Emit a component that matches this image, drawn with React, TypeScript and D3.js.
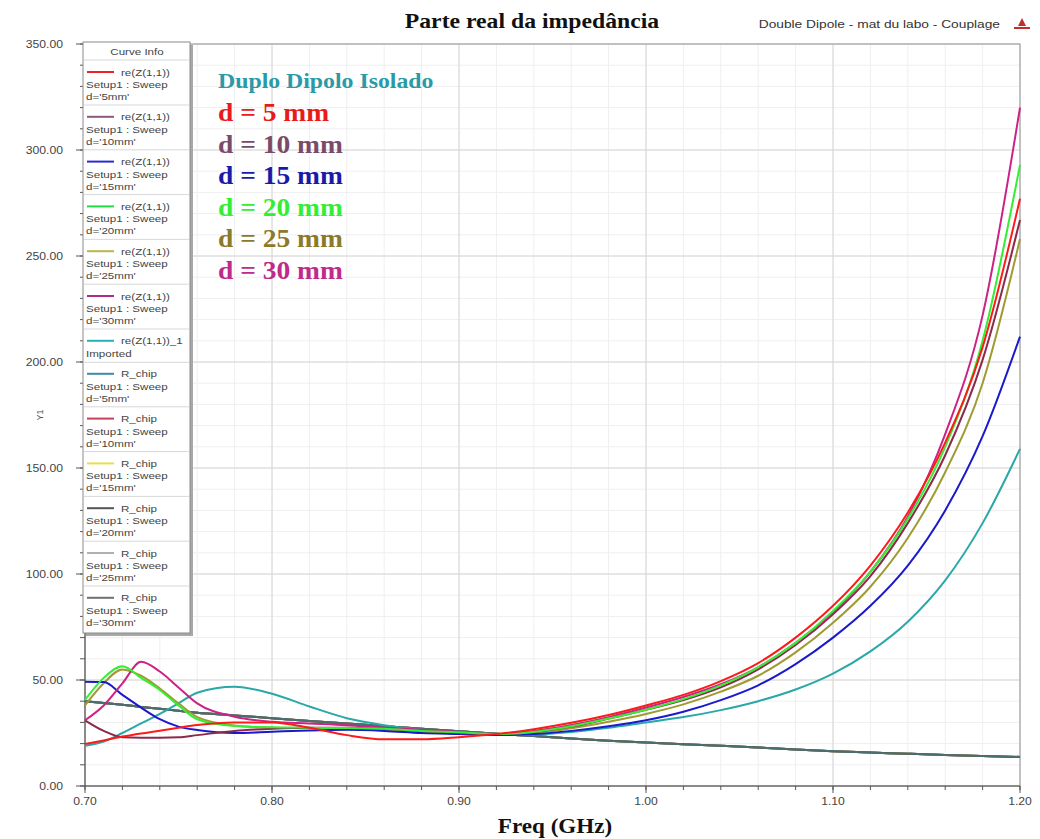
import * as d3 from "d3";

// frequency samples (GHz)
const freqs = [0.7, 0.71, 0.72, 0.73, 0.74, 0.75, 0.76, 0.78, 0.8, 0.82, 0.84, 0.86, 0.88, 0.9, 0.92, 0.94, 0.96, 0.98, 1.0, 1.02, 1.04, 1.06, 1.08, 1.1, 1.12, 1.14, 1.16, 1.18, 1.2];

// re(Z(1,1)) for each spacing d
const reZ_d5 = [19.8, 21.5, 23.3, 24.8, 26.1, 27.5, 28.8, 30, 30, 27.5, 24, 22, 22, 23, 24.5, 26.8, 29.8, 33.5, 38, 43, 49.5, 58, 70, 85, 104, 129, 162, 207, 277];
const reZ_d10 = [31, 26, 23, 22.8, 22.8, 23, 24, 26, 27, 27.5, 27.5, 27, 26, 25, 24.5, 25.5, 28, 31.8, 36, 40.5, 46.5, 55, 66.5, 81, 99, 124, 156, 201, 267];
const reZ_d15 = [49.2, 49, 43, 37, 31.5, 28, 26.4, 25, 25.6, 26.2, 26.5, 26, 25, 24.5, 24, 24.5, 26, 28.2, 31, 35, 40.5, 47.5, 57.5, 70, 85, 104, 130, 165, 212];
const reZ_d20 = [40.6, 51, 56.5, 51, 45.3, 38, 31.5, 28.3, 27.7, 27.5, 27.3, 27, 26, 25.3, 24.5, 25.5, 28.2, 31.8, 36, 41, 47.5, 56, 67.5, 82.5, 101, 126, 160, 210, 293];
const reZ_d25 = [38, 48.5, 55, 52, 46, 39, 32.5, 28.5, 27.5, 27.3, 27, 26.5, 25.5, 25, 24.3, 25, 27.2, 30.3, 34, 38.5, 44.5, 52, 63, 77, 94, 117, 148, 190, 258];
const reZ_d30 = [31, 38, 48.4, 58.6, 54, 46.5, 39, 32.7, 30.3, 29.5, 28.7, 27.5, 26.5, 25.5, 24.5, 26, 28.8, 32.5, 37, 42, 48, 56, 67.5, 82, 101, 127, 166, 222, 320];
// imported: isolated double dipole
const reZ_imported = [19, 21, 25, 29.5, 34, 39, 44, 46.8, 43.5, 37.5, 32, 28.7, 26.5, 25.2, 24.5, 24.3, 25.5, 27.5, 30, 32.5, 35.8, 40, 45.5, 53, 63.5, 77.5, 97, 124, 159];
// R_chip (same for all d)
const rChip = [40, 39.2, 38.3, 37.3, 36.4, 35.5, 34.6, 33.3, 32, 30.7, 29.5, 28.2, 27, 25.8, 24.6, 23.6, 22.4, 21.4, 20.5, 19.7, 19, 18.2, 17.2, 16.4, 15.8, 15.2, 14.6, 14.1, 13.7];

const xTicks = [0.7, 0.8, 0.9, 1.0, 1.1, 1.2];
const yTicks = [0, 50, 100, 150, 200, 250, 300, 350];

const legendNames = ["re(Z(1,1))", "re(Z(1,1))", "re(Z(1,1))", "re(Z(1,1))", "re(Z(1,1))", "re(Z(1,1))", "re(Z(1,1))_1", "R_chip", "R_chip", "R_chip", "R_chip", "R_chip", "R_chip"];
const legendSetups = ["Setup1 : Sweep", "Setup1 : Sweep", "Setup1 : Sweep", "Setup1 : Sweep", "Setup1 : Sweep", "Setup1 : Sweep", "Imported", "Setup1 : Sweep", "Setup1 : Sweep", "Setup1 : Sweep", "Setup1 : Sweep", "Setup1 : Sweep", "Setup1 : Sweep"];
const legendParams = ["d='5mm'", "d='10mm'", "d='15mm'", "d='20mm'", "d='25mm'", "d='30mm'", "", "d='5mm'", "d='10mm'", "d='15mm'", "d='20mm'", "d='25mm'", "d='30mm'"];

const notes = ["Duplo Dipolo Isolado", "d = 5 mm", "d = 10 mm", "d = 15 mm", "d = 20 mm", "d = 25 mm", "d = 30 mm"];

const legendColors = ["#ee2222", "#8a5a78", "#2a2ad0", "#22dd44", "#b8b848", "#b02a8a", "#22b4b4", "#3a8aa8", "#c84058", "#e8e048", "#555555", "#b0b0b0", "#707070"];
const noteColors = ["#2a9aa8", "#e81a1a", "#7a4a6a", "#1a1aaa", "#33ee33", "#8a7a2a", "#c02a8a"];

const serif = "'Liberation Serif', 'Times New Roman', serif";
const sans = "'Liberation Sans', Arial, sans-serif";

// the source picture is stretched sideways, so text gets a horizontal scale
const SX = 1.22;

function Stretched(props: { x: number; y: number; sx?: number; anchor?: string; size: number; family?: string; bold?: boolean; fill?: string; children: any }) {
  const { x, y, sx = SX, anchor = "start", size, family = sans, bold, fill = "#444", children } = props;
  return (
    <text
      transform={`translate(${x},${y}) scale(${sx},1)`}
      textAnchor={anchor}
      fontFamily={family}
      fontSize={size}
      fontWeight={bold ? "bold" : "normal"}
      fill={fill}
    >
      {children}
    </text>
  );
}

export default function App() {
  const W = 1040;
  const H = 839;
  const x = d3.scaleLinear().domain([0.7, 1.2]).range([85, 1020]);
  const y = d3.scaleLinear().domain([0, 350]).range([786, 44]);

  const line = d3
    .line<number>()
    .x((_, i) => x(freqs[i]))
    .y((d) => y(d))
    .curve(d3.curveMonotoneX);

  // drawing order: bottom first
  const curves = [
    { v: rChip, c: "#3a8aa8" },
    { v: rChip, c: "#c84058" },
    { v: rChip, c: "#e8e048" },
    { v: rChip, c: "#b0b0b0" },
    { v: rChip, c: "#555555" },
    { v: rChip, c: "#4a6e6c" },
    { v: reZ_imported, c: "#2aa8a8" },
    { v: reZ_d25, c: "#a09a30" },
    { v: reZ_d15, c: "#1a1acc" },
    { v: reZ_d10, c: "#8b2a4a" },
    { v: reZ_d30, c: "#cc2288" },
    { v: reZ_d20, c: "#33ee33" },
    { v: reZ_d5, c: "#ff1a1a" },
  ];

  const minorX = d3.range(0.7, 1.2001, 0.02);
  const minorY = d3.range(0, 351, 10);
  const fmt = d3.format(".2f");

  // legend rows
  let rowY = 72;
  const rows = legendNames.map((name, i) => {
    const r = { name, setup: legendSetups[i], param: legendParams[i], color: legendColors[i], y: rowY };
    rowY += legendParams[i] ? 44.8 : 33;
    return r;
  });

  return (
    <svg width={W} height={H} style={{ position: "absolute", left: 0, top: 0, background: "#fff" }}>
      {/* grid */}
      <g>
        {minorX.map((f, i) => (
          <line key={"mx" + i} x1={x(f)} x2={x(f)} y1={y(0)} y2={y(350)} stroke="#efefef" />
        ))}
        {minorY.map((v, i) => (
          <line key={"my" + i} x1={x(0.7)} x2={x(1.2)} y1={y(v)} y2={y(v)} stroke="#efefef" />
        ))}
        {xTicks.map((f, i) => (
          <line key={"gx" + i} x1={x(f)} x2={x(f)} y1={y(0)} y2={y(350)} stroke="#d6d6d6" />
        ))}
        {yTicks.map((v, i) => (
          <line key={"gy" + i} x1={x(0.7)} x2={x(1.2)} y1={y(v)} y2={y(v)} stroke="#d6d6d6" />
        ))}
      </g>
      <rect x={x(0.7)} y={y(350)} width={x(1.2) - x(0.7)} height={y(0) - y(350)} fill="none" stroke="#9a9a9a" />

      {/* axes */}
      <line x1={x(0.7)} x2={x(1.2)} y1={y(0)} y2={y(0)} stroke="#555" />
      <line x1={x(0.7)} x2={x(0.7)} y1={y(0)} y2={y(350)} stroke="#555" />
      {minorX.map((f, i) => (
        <line key={"tx" + i} x1={x(f)} x2={x(f)} y1={y(0)} y2={y(0) + 4} stroke="#555" />
      ))}
      {xTicks.map((f, i) => (
        <g key={"lx" + i}>
          <line x1={x(f)} x2={x(f)} y1={y(0)} y2={y(0) + 7} stroke="#555" />
          <Stretched x={x(f)} y={y(0) + 19} size={10} anchor="middle">
            {fmt(f)}
          </Stretched>
        </g>
      ))}
      {minorY.map((v, i) => (
        <line key={"ty" + i} x1={x(0.7) - 5} x2={x(0.7)} y1={y(v)} y2={y(v)} stroke="#555" />
      ))}
      {yTicks.map((v, i) => (
        <g key={"ly" + i}>
          <line x1={x(0.7) - 9} x2={x(0.7)} y1={y(v)} y2={y(v)} stroke="#555" />
          <Stretched x={x(0.7) - 22} y={y(v) + 3.5} size={10} anchor="end">
            {fmt(v)}
          </Stretched>
        </g>
      ))}
      <text transform={`translate(43,${(y(0) + y(350)) / 2}) rotate(-90)`} fontFamily={sans} fontSize={9} fill="#555" textAnchor="middle">
        Y1
      </text>

      {/* curves */}
      <g fill="none" strokeWidth={2} strokeLinejoin="round">
        {curves.map((s, i) => (
          <path key={"c" + i} d={line(s.v) || ""} stroke={s.c} />
        ))}
      </g>

      {/* annotations */}
      {notes.map((t, i) => (
        <Stretched
          key={"n" + i}
          x={218}
          y={i === 0 ? 88 : 121 + (i - 1) * 31.6}
          sx={i === 0 ? 1.19 : 1.1}
          family={serif}
          bold
          size={i === 0 ? 20 : 25}
          fill={noteColors[i]}
        >
          {t}
        </Stretched>
      ))}

      {/* legend */}
      <rect x={86} y={45} width={107} height={591} fill="#a8a8a8" />
      <rect x={83} y={42} width={107} height={591} fill="#fff" stroke="#8a8a8a" />
      <Stretched x={137} y={55} size={9.5} anchor="middle">
        Curve Info
      </Stretched>
      <line x1={84} x2={189} y1={60} y2={60} stroke="#d8d8d8" />
      {rows.map((r, i) => (
        <g key={"lg" + i}>
          <line x1={87} x2={114} y1={r.y} y2={r.y} stroke={r.color} strokeWidth={2} />
          <Stretched x={121} y={r.y + 3.5} size={9.5}>
            {r.name}
          </Stretched>
          <Stretched x={86} y={r.y + 16} size={9.5}>
            {r.setup}
          </Stretched>
          {r.param && (
            <Stretched x={86} y={r.y + 28} size={9.5}>
              {r.param}
            </Stretched>
          )}
          {i < rows.length - 1 && (
            <line x1={84} x2={189} y1={r.y + (r.param ? 33 : 21.5)} y2={r.y + (r.param ? 33 : 21.5)} stroke="#d8d8d8" />
          )}
        </g>
      ))}

      {/* titles */}
      <Stretched x={532} y={28} sx={1.13} family={serif} bold size={21} fill="#111" anchor="middle">
        Parte real da impedância
      </Stretched>
      <Stretched x={1000} y={28} sx={1.25} size={11} fill="#333" anchor="end">
        Double Dipole - mat du labo - Couplage
      </Stretched>
      <g transform="translate(1022,26)">
        <path d="M-4,0 L0,-8 L4,0 Z" fill="#c0302a" />
        <rect x={-8} y={1} width={16} height={2} fill="#c0302a" />
      </g>
      <Stretched x={555} y={833} sx={1.1} family={serif} bold size={21} fill="#111" anchor="middle">
        Freq (GHz)
      </Stretched>
    </svg>
  );
}
